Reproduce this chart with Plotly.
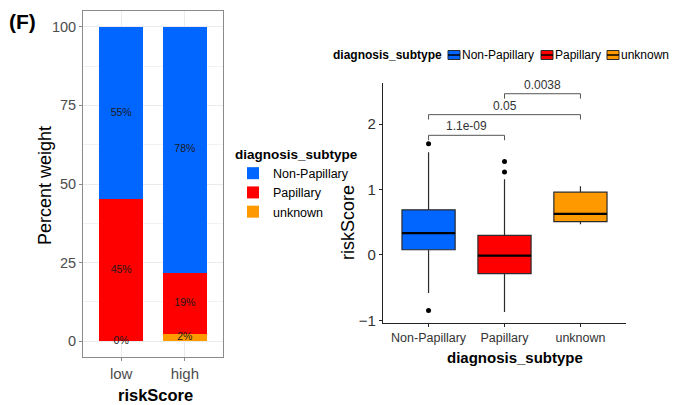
import plotly.graph_objects as go

# ---------------- data ----------------
subtypes = ["Non-Papillary", "Papillary", "unknown"]
colors = ["#0066FF", "#FF0000", "#FF9900"]

risk_groups = ["low", "high"]
pct_nonpap = [54.9, 78.3]
pct_pap = [45.1, 19.3]
pct_unknown = [0.0, 2.4]

# boxplot summary statistics per subtype
box_q1 = [0.08, -0.285, 0.51]
box_median = [0.335, -0.01, 0.63]
box_q3 = [0.69, 0.30, 0.96]
box_lower = [-0.58, -0.87, 0.47]
box_upper = [1.57, 1.16, 1.05]
outlier_x = ["Non-Papillary", "Non-Papillary", "Papillary", "Papillary"]
outlier_y = [1.70, -0.85, 1.27, 1.43]

# pairwise comparisons: (group a, group b, p-value label, bracket height)
comp_a = ["Non-Papillary", "Non-Papillary", "Papillary"]
comp_b = ["Papillary", "unknown", "unknown"]
comp_p = ["1.1e-09", "0.05", "0.0038"]
comp_h = [1.83, 2.146, 2.466]

FONT = "Liberation Sans, Arial, sans-serif"
OFF = 8                      # page body margin of the browser
W, H = 686 - OFF, 405 - OFF  # figure size so that it fits the window


def px(x):
    """screen x (pixels) -> paper fraction"""
    return (x - OFF) / W


def py(y):
    """screen y (pixels from top) -> paper fraction"""
    return 1 - (y - OFF) / H


fig = go.Figure()

# ---------------- left: stacked bars ----------------
stack_order = [(2, pct_unknown), (1, pct_pap), (0, pct_nonpap)]
for idx, vals in stack_order:
    fig.add_trace(go.Bar(
        x=risk_groups, y=vals, name=subtypes[idx],
        marker=dict(color=colors[idx], line=dict(width=0)),
        width=0.7, xaxis="x", yaxis="y", legend="legend",
        legendrank=idx + 1,
    ))

# bar labels at segment midpoints
lab_x, lab_y, lab_t = [], [], []
for gi, g in enumerate(risk_groups):
    base = 0.0
    for idx, vals in stack_order:
        v = vals[gi]
        lab_x.append(g)
        lab_y.append(base + v / 2)
        lab_t.append(f"{round(v)}%")
        base += v
fig.add_trace(go.Scatter(
    x=lab_x, y=lab_y, text=lab_t, mode="text",
    textfont=dict(size=10.5, color="#1a1a1a", family=FONT),
    showlegend=False, hoverinfo="skip", xaxis="x", yaxis="y",
))

# ---------------- right: boxplots ----------------
xpos = {s: i for i, s in enumerate(subtypes)}
BW = 0.7
for i, s in enumerate(subtypes):
    fig.add_trace(go.Box(
        x=[i], q1=[box_q1[i]], median=[box_median[i]], q3=[box_q3[i]],
        lowerfence=[box_lower[i]], upperfence=[box_upper[i]],
        name=s, fillcolor=colors[i], line=dict(color="#2b2b2b", width=1.2),
        width=BW, whiskerwidth=0, boxpoints=False, showlegend=False,
        xaxis="x2", yaxis="y2",
    ))
    # thicker median line
    fig.add_trace(go.Scatter(
        x=[i - BW / 2, i + BW / 2], y=[box_median[i], box_median[i]],
        mode="lines", line=dict(color="black", width=2.2),
        showlegend=False, hoverinfo="skip", xaxis="x2", yaxis="y2",
    ))

fig.add_trace(go.Scatter(
    x=[xpos[s] for s in outlier_x], y=outlier_y, mode="markers",
    marker=dict(color="black", size=5), showlegend=False,
    xaxis="x2", yaxis="y2",
))

# significance brackets
TICK = 0.075
for a, b, p, h in zip(comp_a, comp_b, comp_p, comp_h):
    xa, xb = xpos[a], xpos[b]
    fig.add_trace(go.Scatter(
        x=[xa, xa, xb, xb], y=[h - TICK, h, h, h - TICK], mode="lines",
        line=dict(color="#555555", width=1), showlegend=False,
        hoverinfo="skip", xaxis="x2", yaxis="y2",
    ))
    fig.add_annotation(
        x=(xa + xb) / 2, y=h, xref="x2", yref="y2", text=p,
        showarrow=False, xanchor="center", yanchor="bottom", yshift=0,
        font=dict(size=12, color="#333333", family=FONT),
    )

# ---------------- top legend for the boxplot (ggplot style, compact) ----------------
fig.add_annotation(
    x=px(331), y=py(55), xref="paper", yref="paper", text="<b>diagnosis_subtype</b>",
    showarrow=False, xanchor="left", yanchor="middle",
    font=dict(size=12, color="black", family=FONT),
)
key_x = [448, 541, 607]
for i, s in enumerate(subtypes):
    x0, x1 = key_x[i], key_x[i] + 12
    fig.add_shape(type="rect", xref="paper", yref="paper",
                  x0=px(x0), x1=px(x1), y0=py(59.5), y1=py(50.5),
                  fillcolor=colors[i], line=dict(color="#2b2b2b", width=1))
    fig.add_shape(type="line", xref="paper", yref="paper",
                  x0=px(x0), x1=px(x1), y0=py(55), y1=py(55),
                  line=dict(color="black", width=1.5))
    fig.add_annotation(
        x=px(x1), y=py(55), xref="paper", yref="paper", text=s,
        showarrow=False, xanchor="left", yanchor="middle",
        font=dict(size=12, color="black", family=FONT),
    )

# ---------------- axis titles ----------------
title_kw = dict(xref="paper", yref="paper", showarrow=False,
                xanchor="center", yanchor="middle")
fig.add_annotation(x=px(45), y=py(186), text="Percent weight", textangle=-90,
                   font=dict(size=18, color="black", family=FONT), **title_kw)
fig.add_annotation(x=px(155), y=py(395), text="<b>riskScore</b>",
                   font=dict(size=16.5, color="black", family=FONT), **title_kw)
fig.add_annotation(x=px(348), y=py(223), text="riskScore", textangle=-90,
                   font=dict(size=18, color="black", family=FONT), **title_kw)
fig.add_annotation(x=px(515), y=py(357), text="<b>diagnosis_subtype</b>",
                   font=dict(size=15, color="black", family=FONT), **title_kw)

# ---------------- layout ----------------
fig.update_layout(
    width=W, height=H,
    margin=dict(l=0, r=0, t=0, b=0),
    paper_bgcolor="white", plot_bgcolor="white",
    font=dict(family=FONT, color="black"),
    barmode="stack", boxmode="overlay",
    xaxis=dict(
        domain=[px(83), px(223)], range=[-0.6, 1.6], type="category",
        categoryorder="array", categoryarray=risk_groups,
        showgrid=True, gridcolor="#ebebeb", gridwidth=1,
        showline=True, mirror=True, linecolor="#8a8a8a", linewidth=1,
        ticks="outside", ticklen=3, tickcolor="#8a8a8a",
        tickfont=dict(size=15, color="#4d4d4d"),
        zeroline=False, anchor="y", automargin=False,
    ),
    yaxis=dict(
        domain=[py(357), py(11)], range=[-5, 105],
        tickvals=[0, 25, 50, 75, 100],
        showgrid=True, gridcolor="#ebebeb", gridwidth=1,
        minor=dict(tickvals=[12.5, 37.5, 62.5, 87.5], showgrid=True,
                   gridcolor="#f2f2f2", gridwidth=0.6, ticks=""),
        showline=True, mirror=True, linecolor="#8a8a8a", linewidth=1,
        ticks="outside", ticklen=3, tickcolor="#8a8a8a",
        tickfont=dict(size=14.5, color="#4d4d4d"),
        zeroline=False, anchor="x", automargin=False,
    ),
    xaxis2=dict(
        domain=[px(383), px(626)], range=[-0.6, 2.6],
        tickvals=list(range(len(subtypes))), ticktext=subtypes, tickangle=0,
        showgrid=False, zeroline=False,
        showline=True, linecolor="#222222", linewidth=1.2,
        ticks="outside", ticklen=3, tickcolor="#222222",
        tickfont=dict(size=12.5, color="#333333"),
        anchor="y2", automargin=False,
    ),
    yaxis2=dict(
        domain=[py(323), py(83)], range=[-1.04, 2.63],
        tickvals=[-1, 0, 1, 2],
        showgrid=False, zeroline=False,
        showline=True, linecolor="#222222", linewidth=1.2,
        ticks="outside", ticklen=3, tickcolor="#222222",
        tickfont=dict(size=15, color="#333333"),
        anchor="x2", automargin=False,
    ),
    legend=dict(
        x=px(233), y=py(141), xanchor="left", yanchor="top",
        title=dict(text="<b>diagnosis_subtype</b>", font=dict(size=13.5)),
        font=dict(size=12.5), bgcolor="rgba(0,0,0,0)",
        itemwidth=30, tracegroupgap=0, traceorder="normal",
    ),
)

fig.add_annotation(
    x=px(7), y=py(21), xref="paper", yref="paper", text="<b>(F)</b>",
    showarrow=False, xanchor="left", yanchor="middle",
    font=dict(size=21, color="black", family=FONT),
)

fig.write_html("out.html")
